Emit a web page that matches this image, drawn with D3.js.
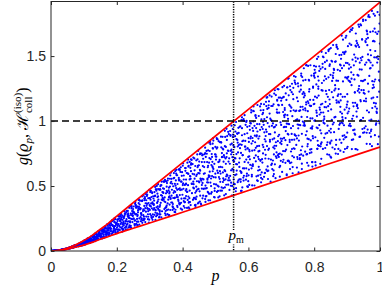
<!DOCTYPE html>
<html>
<head>
<meta charset="utf-8">
<script src="https://cdn.jsdelivr.net/npm/d3@7"></script>
<style>
  body { margin: 0; background: #fff; }
  svg { display: block; }
  text { font-family: "Liberation Sans", Arial, sans-serif; }
</style>
</head>
<body>
<div id="chart-area"></div>
<script>
// bounds of g
const boundP = [0, 0.025, 0.05, 0.075, 0.1, 0.125, 0.15, 0.175, 0.2, 0.25, 0.3, 0.4, 0.5, 0.6, 0.7, 0.8, 0.9, 1]
const upperG = [0, 0.006, 0.022, 0.047, 0.08, 0.12, 0.167, 0.215, 0.268, 0.372, 0.475, 0.68, 0.885, 1.09, 1.295, 1.5, 1.705, 1.915]
const lowerG = [0, 0.005, 0.015, 0.029, 0.045, 0.066, 0.09, 0.112, 0.134, 0.175, 0.215, 0.298, 0.382, 0.466, 0.55, 0.633, 0.717, 0.8]

const pM = 0.555
const gLevel = 1
const xTicks = [0, 0.2, 0.4, 0.6, 0.8, 1]
const yTicks = [0, 0.5, 1, 1.5]

// sampled states: one row per 0.01 wide bin of p,
// each 3 digits = position inside the bin (1 digit) + height inside the band in % (2 digits)
const dotRows = [
  "507183942266315790848024661437179852733509026671954318480795",
  "238916470352861547093628715064392871546209183754620938175462",
  "641097385512870436259183047726518390465172834906157382041659",
  "872340615928471063594827310658942013768524197036845210379586",
  "159628374016583927460318295714086352941870263519408736125947",
  "436071928354619802743165098273541690827354160927384510692837",
  "725846139072518364950271846390517628493057162843905716284039",
  "093517284661250948372519036487125093846271590384762159038847",
  "318804957263140985726351849070632518947265301489572630184957",
  "580239174688023570146952839117465082733914065528301746952083",
  "942117385063726491208854639370115982447203768531096824359677",
  "263805519148974330681092457726810344195573908261632749086415",
  "718256044933587162390675821409256988137540603394871225769018",
  "451690827213356944079518682137965402731286049853114597320876",
  "836027472559105783948361214690577023862418395741006539683152",
  "190548766312023879645207384951138765502049917326683810254473",
  "625383918074441256709592163837480014926671358202745969031587",
  "372961150628803445287036756514099893361227684150972408545816",
  "047719593285662130856471928345613598084762231917408056793664",
  "589234016757398862143605471089726251853394610548275137962420",
  "913476268831054617492178305963241786617032449875120593738206",
  "264058735392807143516969680224375447092813758601939366184725",
  "706392481644129950373816047578819162534295006743268881415039",
  "138817659203946471024358792635510086267749383914651227809563",
  "851263304975482028637194213759966341108587725032494670356848",
  "427590872136061784355912649408183527974260512695037849781314",
  "682145239768517306893451075827342693458119806372563204129975",
  "315708946420783259161087524342697915230681057436896158442781",
  "974032587651226894418360839197051478766923384019215582607346",
  "056661413289974537702248186953428810345576899261520743063198",
  "783419125856640073951392267514806149573038612785347921190455",
  "249886670014358723034569912481165337829694246072703418985631",
  "531247806595193362627815450036978582214371563908081654437219",
  "867504342178719946285033694758020461586213137649952387276024",
  "192738958422065689441247806163372924611550048816389075724692",
  "640163217867486025173704359281845617903086761432128953590307",
  "375920683341912758530186027645498293056829214577871046339168",
  "018452794506637281249973862314705138481667392025536810164749",
  "726087351792240414968535183870629056317921874463095382751236",
  "493628069137805563384219746092151774935408520189663247018881",
  "157364825940372197618652093426984311246785607952321618879054",
  "884915436273029648805061571783336520769142053697814305492726",
  "362571190684747002263829408157593846022378685214457791136583",
  "705238653419116875590344827561064293718905249436082668901317",
  "219807972156584431137798346015759672493184831570606129358944",
  "546042318789263985874126602447290157835361078829391504643208",
  "931684045327809216452563185894627038166752904343278885012671",
  "078326761942435659013287734619382805541026817468945213786539",
  "614759283065971304626941250172816493097638432015569876243397",
  "283191507716148872395056983438154720658299706351184942527063",
  "857413036580692125741379068804493267920545163988622071395714",
  "342967684231817548259692413157776034385912538426049783961205",
  "190526453874329061987315562740238896604173815659371224046938",
  "765148218397056823432964891026357481172630949105586817230462",
  "428735971662583209614087345571900322863757026490718153584896",
  "013290849515764978136433279814645059521382467926893608152347",
  "679854326048917373580762104296431715986240353671208539767084",
  "234617702386458140961825528063893586345902614218079463826751",
  "896073165729330592247418872956106247789514082837465096391620",
  "521386934152679804418671056339752911214487941063328752605183",
  "347925581064206437893159662780125473530896378241764018249955",
  "962104273598845261015736327493580128469357803692146874017329",
  "185648796231460919674382913054238765807413561186935247370608",
  "630372419787123056358804041629976341182592247809613565894132",
  "472859067346791482226015585913364207951668130543709281436874",
  "819233642905558714487361796248013596674129392867254039783416",
  "254496183670037825919547238186701362545983868014476653127290",
  "708161935423382067612894463537846729093346214758938120506683",
  "391784530058926341785203097672459018326871675437052896941524",
  "046527278819614195370956842413127685759224503981286347638079",
  "583039864276183752528417036894962341207568841125619783394952",
  "127862451603790428943071654238385916578602069347832164215890",
  "864315098947352689116534281769607053142785924298471536058613",
  "319548726182067934685290402817235674896141358763013408579226",
  "652091387734528261039816773352914189561437706025394852138947",
  "978346613459201577862143517086450921236759183614745069982331",
  "203685945017473896324658091743869236615093547389208774461152",
  "736218170563849043597922258615142807384356929072561433815697",
  "481957328894615382063471926204573658718024261846937195054763",
  "057402761336982115438857673529306184991672445237118984627406",
  "895673242180057748916305384861735042263589187916650327402845",
  "362119587645831296270583749034418375802917536268023651984179",
  "614836053972298564745019128693587220046738371453892106265584",
  "149287816453672039381926594275023648759314426887135562908041",
  "527561394018905782653244816507248973395156681032749817372695",
  "873025631796144358028671467932976104512483095769284335753218",
  "210794459362587617892436075158613892381765847024506749136581",
  "684347173829309942546205938716152457907628264353871190425876",
  "436618905283761075213784649052398631628047533915180472794329",
  "795283348907026531674118182463839716073594416238962583307941",
  "061459787134435896108362957671524049286173758825637019143568",
  "528937264405812168359740023496961285673830197412354697819023",
  "347176936582257604781439415928068573832216504691219885670347",
  "912650083247679381234867548103496712159458862036745271037694",
  "253814617095368752896024170583825346461897039224583670294138",
  "679043452738913217045695736864214580987137342905618463881052",
  "184721895369542086627958381215753496029764176348904812465597",
  "436598209162084743759321502876936158314629883071267945648213",
  "817264568493731925143076375548681132247409095863529716963384",
  "302885746027159461891738024652518294363971607135945580179816"
]

const MARGIN = { LEFT: 51, RIGHT: 2, TOP: 1.5, BOTTOM: 42 }
const WIDTH = 382 - MARGIN.LEFT - MARGIN.RIGHT
const HEIGHT = 293 - MARGIN.TOP - MARGIN.BOTTOM

const svg = d3.select("#chart-area").append("svg")
  .attr("width", 382)
  .attr("height", 293)

const g = svg.append("g")
  .attr("transform", `translate(${MARGIN.LEFT}, ${MARGIN.TOP})`)

// Scales
const x = d3.scaleLinear().domain([0, 1]).range([0, WIDTH])
const y = d3.scaleLinear().domain([0, 1.92]).range([HEIGHT, 0])
const lo = d3.scaleLinear().domain(boundP).range(lowerG)
const up = d3.scaleLinear().domain(boundP).range(upperG)

g.append("clipPath").attr("id", "plot-clip")
  .append("rect").attr("width", WIDTH).attr("height", HEIGHT)

const plot = g.append("g").attr("clip-path", "url(#plot-clip)")

// decode the samples
const dots = []
dotRows.forEach((row, i) => {
  row.match(/\d{3}/g).forEach(s => {
    const p = (i + (+s[0] + 0.5) / 10) / 100
    const t = (+s.slice(1) + 0.5) / 100
    dots.push({ p: p, g: lo(p) + t * (up(p) - lo(p)) })
  })
})

plot.selectAll("circle.dot").data(dots).enter().append("circle")
  .attr("class", "dot")
  .attr("cx", d => x(d.p))
  .attr("cy", d => y(d.g))
  .attr("r", 1.1)
  .attr("fill", "#0000ff")

// red bounds
const bounds = [upperG, lowerG]
const line = d3.line()
  .x((d, i) => x(boundP[i]))
  .y(d => y(d))
  .curve(d3.curveMonotoneX)

plot.selectAll("path.bound").data(bounds).enter().append("path")
  .attr("class", "bound")
  .attr("d", line)
  .attr("fill", "none")
  .attr("stroke", "#ff0000")
  .attr("stroke-width", 1.7)

// dashed g = 1
plot.append("line")
  .attr("x1", 0).attr("x2", WIDTH)
  .attr("y1", y(gLevel)).attr("y2", y(gLevel))
  .attr("stroke", "#000")
  .attr("stroke-width", 1.5)
  .attr("stroke-dasharray", "7,4")

// dotted p_m
plot.append("line")
  .attr("x1", x(pM)).attr("x2", x(pM))
  .attr("y1", 0).attr("y2", HEIGHT)
  .attr("stroke", "#000")
  .attr("stroke-width", 1.5)
  .attr("stroke-dasharray", "1.3,1.2")

// p_m label with white background
const pmG = g.append("g").attr("transform", `translate(${x(pM) + 2.5}, ${HEIGHT - 11})`)
pmG.append("rect")
  .attr("x", -9).attr("y", -10).attr("width", 19).attr("height", 14.5)
  .attr("fill", "#fff")
const pmT = pmG.append("text")
  .attr("text-anchor", "middle")
  .style("font-family", "'Liberation Serif', serif")
pmT.append("tspan").style("font-style", "italic").style("font-size", "15px").text("p")
pmT.append("tspan").attr("dy", 3).style("font-size", "10px").text("m")

// Axes (ticks inside, box on)
const axisColor = "#262626"
const xAxisCall = d3.axisBottom(x).tickValues(xTicks).tickSize(-3.5).tickPadding(10.8).tickFormat(d3.format("~g"))
g.append("g")
  .attr("transform", `translate(0, ${HEIGHT})`)
  .attr("color", axisColor)
  .call(xAxisCall)
g.append("g")
  .attr("color", axisColor)
  .call(d3.axisTop(x).tickValues(xTicks).tickSize(-3.5).tickFormat(""))

const yAxisCall = d3.axisLeft(y).tickValues(yTicks).tickSize(-3.5).tickPadding(5).tickFormat(d3.format("~g"))
g.append("g")
  .attr("color", axisColor)
  .call(yAxisCall)
g.append("g")
  .attr("transform", `translate(${WIDTH}, 0)`)
  .attr("color", axisColor)
  .call(d3.axisRight(y).tickValues(yTicks).tickSize(-3.5).tickFormat(""))

g.selectAll(".domain").remove()
g.selectAll(".tick text")
  .style("font-family", "'Liberation Sans', Arial, sans-serif")
  .style("font-size", "14px")
  .attr("fill", axisColor)

g.append("rect")
  .attr("width", WIDTH).attr("height", HEIGHT)
  .attr("fill", "none")
  .attr("stroke", axisColor)
  .attr("stroke-width", 1)

// x label
svg.append("text")
  .attr("x", MARGIN.LEFT + WIDTH / 2)
  .attr("y", 280.5)
  .attr("text-anchor", "middle")
  .style("font-family", "'Liberation Serif', serif")
  .style("font-style", "italic")
  .style("font-size", "16px")
  .text("p")

// y label: g(ϱ_p, ℋ_coll^(iso))
const yLab = svg.append("g").attr("transform", `translate(28, ${MARGIN.TOP + HEIGHT / 2}) rotate(-90)`)
const yLabIn = yLab.append("g")
const pieces = [
  { t: "g", it: true, fs: 16 },
  { t: "(", fs: 16 },
  { t: "ϱ", it: true, fs: 16 },
  { t: "p", it: true, fs: 11, dy: 3.5 },
  { t: ", ", fs: 16 },
  { t: "ℋ", fs: 16 },
  { stack: [{ t: "coll", fs: 11, dy: 4 }, { t: "(iso)", fs: 11, dy: -7.5 }] },
  { t: ")", fs: 16 }
]
let cx = 0
function piece(pc, px) {
  const el = yLabIn.append("text")
    .attr("x", px).attr("y", pc.dy || 0)
    .style("font-family", "'Liberation Serif', 'DejaVu Serif', serif")
    .style("font-style", pc.it ? "italic" : "normal")
    .style("font-size", pc.fs + "px")
    .style("white-space", "pre")
    .text(pc.t)
  return el.node().getComputedTextLength()
}
pieces.forEach(pc => {
  if (pc.stack) {
    cx += d3.max(pc.stack.map(s => piece(s, cx)))
  } else {
    cx += piece(pc, cx)
  }
})
yLabIn.attr("transform", `translate(${-cx / 2}, 0)`)
</script>
</body>
</html>
